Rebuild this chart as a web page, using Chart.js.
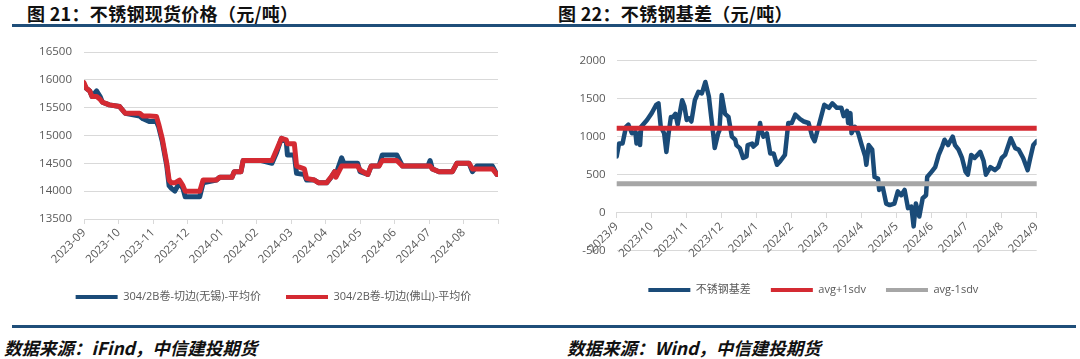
<!DOCTYPE html>
<html>
<head>
<meta charset="utf-8">
<script src="https://cdn.jsdelivr.net/npm/chart.js@4.4.1/dist/chart.umd.min.js"></script>
<style>
  body { margin: 0; width: 1080px; height: 359px; background: #fff; position: relative; overflow: hidden; font-family: "Noto Sans CJK SC", sans-serif; }
  .title { position: absolute; top: 0px; font-size: 18px; font-weight: bold; color: #111; letter-spacing: 0.3px; }
  .rule { position: absolute; left: 12px; width: 1064px; height: 3px; background: #1f4e79; }
  .src { position: absolute; top: 335px; font-size: 17.5px; font-weight: bold; font-style: italic; color: #111; }
  canvas { position: absolute; top: 30px; }
</style>
</head>
<body>
<div class="title" style="left:27px">图 21：不锈钢现货价格（元/吨）</div>
<div class="title" style="left:558px">图 22：不锈钢基差（元/吨）</div>
<div class="rule" style="top:24px"></div>
<div class="rule" style="top:325px"></div>
<div class="src" style="left:4px">数据来源：iFind，中信建投期货</div>
<div class="src" style="left:567px">数据来源：Wind，中信建投期货</div>
<canvas id="price" width="540" height="295" style="left:0px"></canvas>
<canvas id="basis" width="540" height="295" style="left:540px"></canvas>
<script>
// month tick labels
const priceMonths = ['2023-09', '2023-10', '2023-11', '2023-12', '2024-01', '2024-02', '2024-03',
  '2024-04', '2024-05', '2024-06', '2024-07', '2024-08', ''];
const basisMonths = ['2023/9', '2023/10', '2023/11', '2023/12', '2024/1', '2024/2', '2024/3',
  '2024/4', '2024/5', '2024/6', '2024/7', '2024/8', '2024/9'];

// spot prices (yuan/ton)
const priceDates = ['2023-09-01', '2023-09-03', '2023-09-06', '2023-09-08', '2023-09-12', '2023-09-15',
  '2023-09-17', '2023-09-23', '2023-10-02', '2023-10-07', '2023-10-20', '2023-10-23', '2023-10-29',
  '2023-11-04', '2023-11-06', '2023-11-09', '2023-11-13', '2023-11-15', '2023-11-17', '2023-11-20',
  '2023-11-24', '2023-11-27', '2023-11-29', '2023-12-12', '2023-12-15', '2023-12-27', '2023-12-30',
  '2024-01-10', '2024-01-12', '2024-01-18', '2024-01-20', '2024-02-05', '2024-02-14', '2024-02-18',
  '2024-02-22', '2024-02-26', '2024-02-27', '2024-03-04', '2024-03-06', '2024-03-13', '2024-03-15',
  '2024-03-22', '2024-03-26', '2024-04-02', '2024-04-06', '2024-04-09', '2024-04-10', '2024-04-15',
  '2024-04-17', '2024-04-29', '2024-05-01', '2024-05-08', '2024-05-11', '2024-05-18', '2024-05-21',
  '2024-06-03', '2024-06-08', '2024-06-30', '2024-07-02', '2024-07-04', '2024-07-10', '2024-07-22',
  '2024-07-26', '2024-08-06', '2024-08-09', '2024-08-13', '2024-08-27', '2024-08-31'];
const wuxiPrice = [15900, 15850, 15800, 15700, 15800, 15700, 15600, 15550, 15520, 15400, 15350, 15300,
  15250, 15250, 15150, 14900, 14450, 14100, 14050, 14000, 14150, 14050, 13900, 13900, 14150, 14200,
  14250, 14250, 14350, 14350, 14550, 14550, 14500, 14700, 14950, 14900, 14650, 14650, 14320, 14300,
  14200, 14200, 14150, 14150, 14250, 14350, 14300, 14600, 14500, 14500, 14350, 14300, 14450, 14450,
  14650, 14650, 14450, 14450, 14550, 14400, 14350, 14350, 14500, 14500, 14350, 14450, 14450, 14300];
const foshanPrice = [15950, 15850, 15800, 15700, 15700, 15650, 15600, 15550, 15520, 15400, 15400, 15350,
  15350, 15340, 15200, 14950, 14500, 14200, 14150, 14150, 14200, 14100, 14000, 14000, 14200, 14200,
  14250, 14250, 14350, 14350, 14550, 14550, 14550, 14750, 14950, 14920, 14850, 14850, 14450, 14400,
  14230, 14200, 14150, 14150, 14260, 14350, 14250, 14450, 14450, 14450, 14380, 14300, 14450, 14450,
  14550, 14550, 14450, 14450, 14450, 14400, 14350, 14350, 14500, 14500, 14400, 14400, 14400, 14300];

// basis (yuan/ton)
const basisDates = [
  '2023-09-01', '2023-09-03', '2023-09-06', '2023-09-09', '2023-09-11', '2023-09-14', '2023-09-17', '2023-09-18', '2023-09-20', '2023-09-21', '2023-09-22', '2023-09-27',
  '2023-10-01', '2023-10-05', '2023-10-07', '2023-10-09', '2023-10-12', '2023-10-14', '2023-10-16', '2023-10-18', '2023-10-20', '2023-10-22', '2023-10-24', '2023-10-28', '2023-10-30',
  '2023-11-01', '2023-11-03', '2023-11-05', '2023-11-08', '2023-11-11', '2023-11-14', '2023-11-17', '2023-11-20', '2023-11-22', '2023-11-24', '2023-11-25', '2023-11-28', '2023-11-29',
  '2023-12-01', '2023-12-04', '2023-12-07', '2023-12-10', '2023-12-13', '2023-12-14', '2023-12-17', '2023-12-20', '2023-12-23', '2023-12-24', '2023-12-28', '2023-12-29',
  '2024-01-01', '2024-01-04', '2024-01-05', '2024-01-07', '2024-01-10', '2024-01-13', '2024-01-16', '2024-01-19', '2024-01-22', '2024-01-26', '2024-01-29',
  '2024-02-01', '2024-02-04', '2024-02-08', '2024-02-11', '2024-02-15', '2024-02-18', '2024-02-20', '2024-02-22', '2024-02-24', '2024-02-28',
  '2024-03-03', '2024-03-06', '2024-03-10', '2024-03-14', '2024-03-16', '2024-03-19', '2024-03-20', '2024-03-22', '2024-03-23', '2024-03-26', '2024-03-29',
  '2024-04-01', '2024-04-04', '2024-04-05', '2024-04-07', '2024-04-10', '2024-04-12', '2024-04-15', '2024-04-16', '2024-04-19', '2024-04-22', '2024-04-25', '2024-04-29',
  '2024-05-02', '2024-05-05', '2024-05-08', '2024-05-11', '2024-05-14', '2024-05-16', '2024-05-18', '2024-05-21', '2024-05-24', '2024-05-27', '2024-05-28',
  '2024-06-01', '2024-06-04', '2024-06-07', '2024-06-10', '2024-06-12', '2024-06-15', '2024-06-19', '2024-06-21', '2024-06-24', '2024-06-27', '2024-06-30',
  '2024-07-02', '2024-07-05', '2024-07-08', '2024-07-13', '2024-07-16', '2024-07-18', '2024-07-22', '2024-07-26', '2024-07-29',
  '2024-08-01', '2024-08-04', '2024-08-09', '2024-08-13', '2024-08-16', '2024-08-20', '2024-08-24', '2024-08-26', '2024-08-29',
  '2024-09-01'];
const basisValues = [
  740, 910, 910, 1130, 1160, 1045, 1060, 910, 1045, 890, 1130, 1220,
  1310, 1420, 1440, 1130, 1045, 800, 1045, 1260, 1260, 1300, 1160, 1480, 1400,
  1220, 1240, 1200, 1480, 1590, 1570, 1720, 1530, 1260, 1000, 850, 1045, 1080,
  1550, 1300, 1260, 1000, 960, 890, 850, 720, 740, 890, 910, 870,
  910, 1180, 1090, 1000, 1045, 780, 780, 630, 680, 760, 1180,
  1180, 1290, 1230, 1200, 1180, 1000, 940, 1060, 1180, 1420,
  1380, 1440, 1380, 1380, 1270, 1340, 1180, 1310, 1045, 1130, 1045,
  890, 740, 630, 890, 830, 470, 450, 300, 340, 120, 100, 120,
  280, 230, 300, 60, 80, -180, 120, -50, 190, 230, 470,
  540, 600, 760, 870, 960, 890, 1000, 890, 830, 720, 540,
  500, 760, 720, 800, 680, 500, 600, 560, 600,
  720, 760, 980, 850, 830, 720, 560, 700, 890,
  940];
const avgPlus = 1110;
const avgMinus = 380;

const BLUE = '#1a4b78';
const RED = '#d42a32';
const GREY = '#a6a6a6';
const TEXT = '#595959';
const GRID = '#d9d9d9';
const FONT = '"Open Sans", "Noto Sans CJK SC", sans-serif';

// month index since 2023-09 (fractional)
function toX(s) {
  const [y, m, d] = s.split('-').map(Number);
  const dim = new Date(y, m, 0).getDate();
  return (y - 2023) * 12 + (m - 9) + (d - 1) / dim;
}

function line(label, dates, values, color, width, order) {
  return {
    label: label,
    data: dates.map((d, i) => ({ x: toX(d), y: values[i] })),
    borderColor: color,
    backgroundColor: color,
    borderWidth: width,
    pointRadius: 0,
    tension: 0,
    borderJoinStyle: 'round',
    borderCapStyle: 'round',
    order: order
  };
}

// the legend is centred a bit off the plot, shift it sideways after layout
const nudgeLegend = {
  id: 'nudgeLegend',
  afterLayout(chart, args, opts) {
    chart.legend.left += opts.dx;
    chart.legend.right += opts.dx;
  }
};

function legendOpts(pad) {
  return {
    position: 'bottom',
    labels: {
      boxWidth: 42,
      boxHeight: 4,
      padding: pad,
      color: TEXT,
      font: { family: FONT, size: 11 },
      sort: (a, b) => a.datasetIndex - b.datasetIndex,
      generateLabels: chart => Chart.defaults.plugins.legend.labels.generateLabels(chart)
        .map(it => Object.assign(it, { lineWidth: 0 }))
    }
  };
}

new Chart(document.getElementById('price'), {
  type: 'line',
  data: {
    datasets: [
      line('304/2B卷-切边(无锡)-平均价', priceDates, wuxiPrice, BLUE, 5, 2),
      line('304/2B卷-切边(佛山)-平均价', priceDates, foshanPrice, RED, 5, 1)
    ]
  },
  plugins: [nudgeLegend],
  options: {
    responsive: false,
    animation: false,
    layout: { padding: { left: 36, right: 42, top: 22, bottom: 12.5 } },
    plugins: { legend: legendOpts(25), tooltip: { enabled: false }, nudgeLegend: { dx: 6.5 } },
    scales: {
      x: {
        type: 'linear', min: 0, max: 12,
        afterFit: s => { s.height = 47.5; },
        afterBuildTicks: s => { s.ticks = priceMonths.map((_, i) => ({ value: i })); },
        ticks: {
          autoSkip: false, maxRotation: 45, minRotation: 45, padding: 2,
          color: TEXT, font: { family: FONT, size: 11.5 },
          callback: v => priceMonths[v]
        },
        grid: { drawOnChartArea: false, drawTicks: true, tickLength: 5, color: GRID },
        border: { color: GRID }
      },
      y: {
        min: 13500, max: 16500,
        afterFit: s => { s.width = 48; },
        ticks: { stepSize: 500, padding: 12, color: TEXT, font: { family: FONT, size: 11.5 }, callback: v => String(v) },
        grid: { color: GRID, drawTicks: false },
        border: { display: false }
      }
    }
  }
});

new Chart(document.getElementById('basis'), {
  type: 'line',
  data: {
    datasets: [
      line('不锈钢基差', basisDates, basisValues, BLUE, 4.5, 3),
      line('avg+1sdv', basisDates, basisDates.map(() => avgPlus), RED, 5, 2),
      line('avg-1sdv', basisDates, basisDates.map(() => avgMinus), GREY, 5, 1)
    ]
  },
  plugins: [nudgeLegend],
  options: {
    responsive: false,
    animation: false,
    layout: { padding: { left: 34, right: 43.3, top: 30.7, bottom: 19.5 } },
    plugins: { legend: legendOpts(20), tooltip: { enabled: false }, nudgeLegend: { dx: 8 } },
    scales: {
      x: {
        type: 'linear', min: 0, max: 12,
        position: { y: 0 },
        afterBuildTicks: s => { s.ticks = basisMonths.map((_, i) => ({ value: i })); },
        ticks: {
          autoSkip: false, maxRotation: 45, minRotation: 45, padding: 2,
          color: TEXT, font: { family: FONT, size: 11.5 },
          callback: v => basisMonths[v]
        },
        grid: { drawOnChartArea: false, drawTicks: true, tickLength: 5, color: GRID },
        border: { color: GRID }
      },
      // empty bottom band that keeps room between the plot and the legend
      gap: {
        type: 'linear', axis: 'x', position: 'bottom',
        afterFit: s => { s.height = 13.8; },
        ticks: { display: false },
        grid: { display: false },
        border: { display: false }
      },
      y: {
        min: -500, max: 2000,
        afterFit: s => { s.width = 42.7; },
        ticks: { stepSize: 500, padding: 11, color: TEXT, font: { family: FONT, size: 11.5 }, callback: v => String(v) },
        grid: { color: GRID, drawTicks: false },
        border: { display: false }
      }
    }
  }
});
</script>
</body>
</html>
